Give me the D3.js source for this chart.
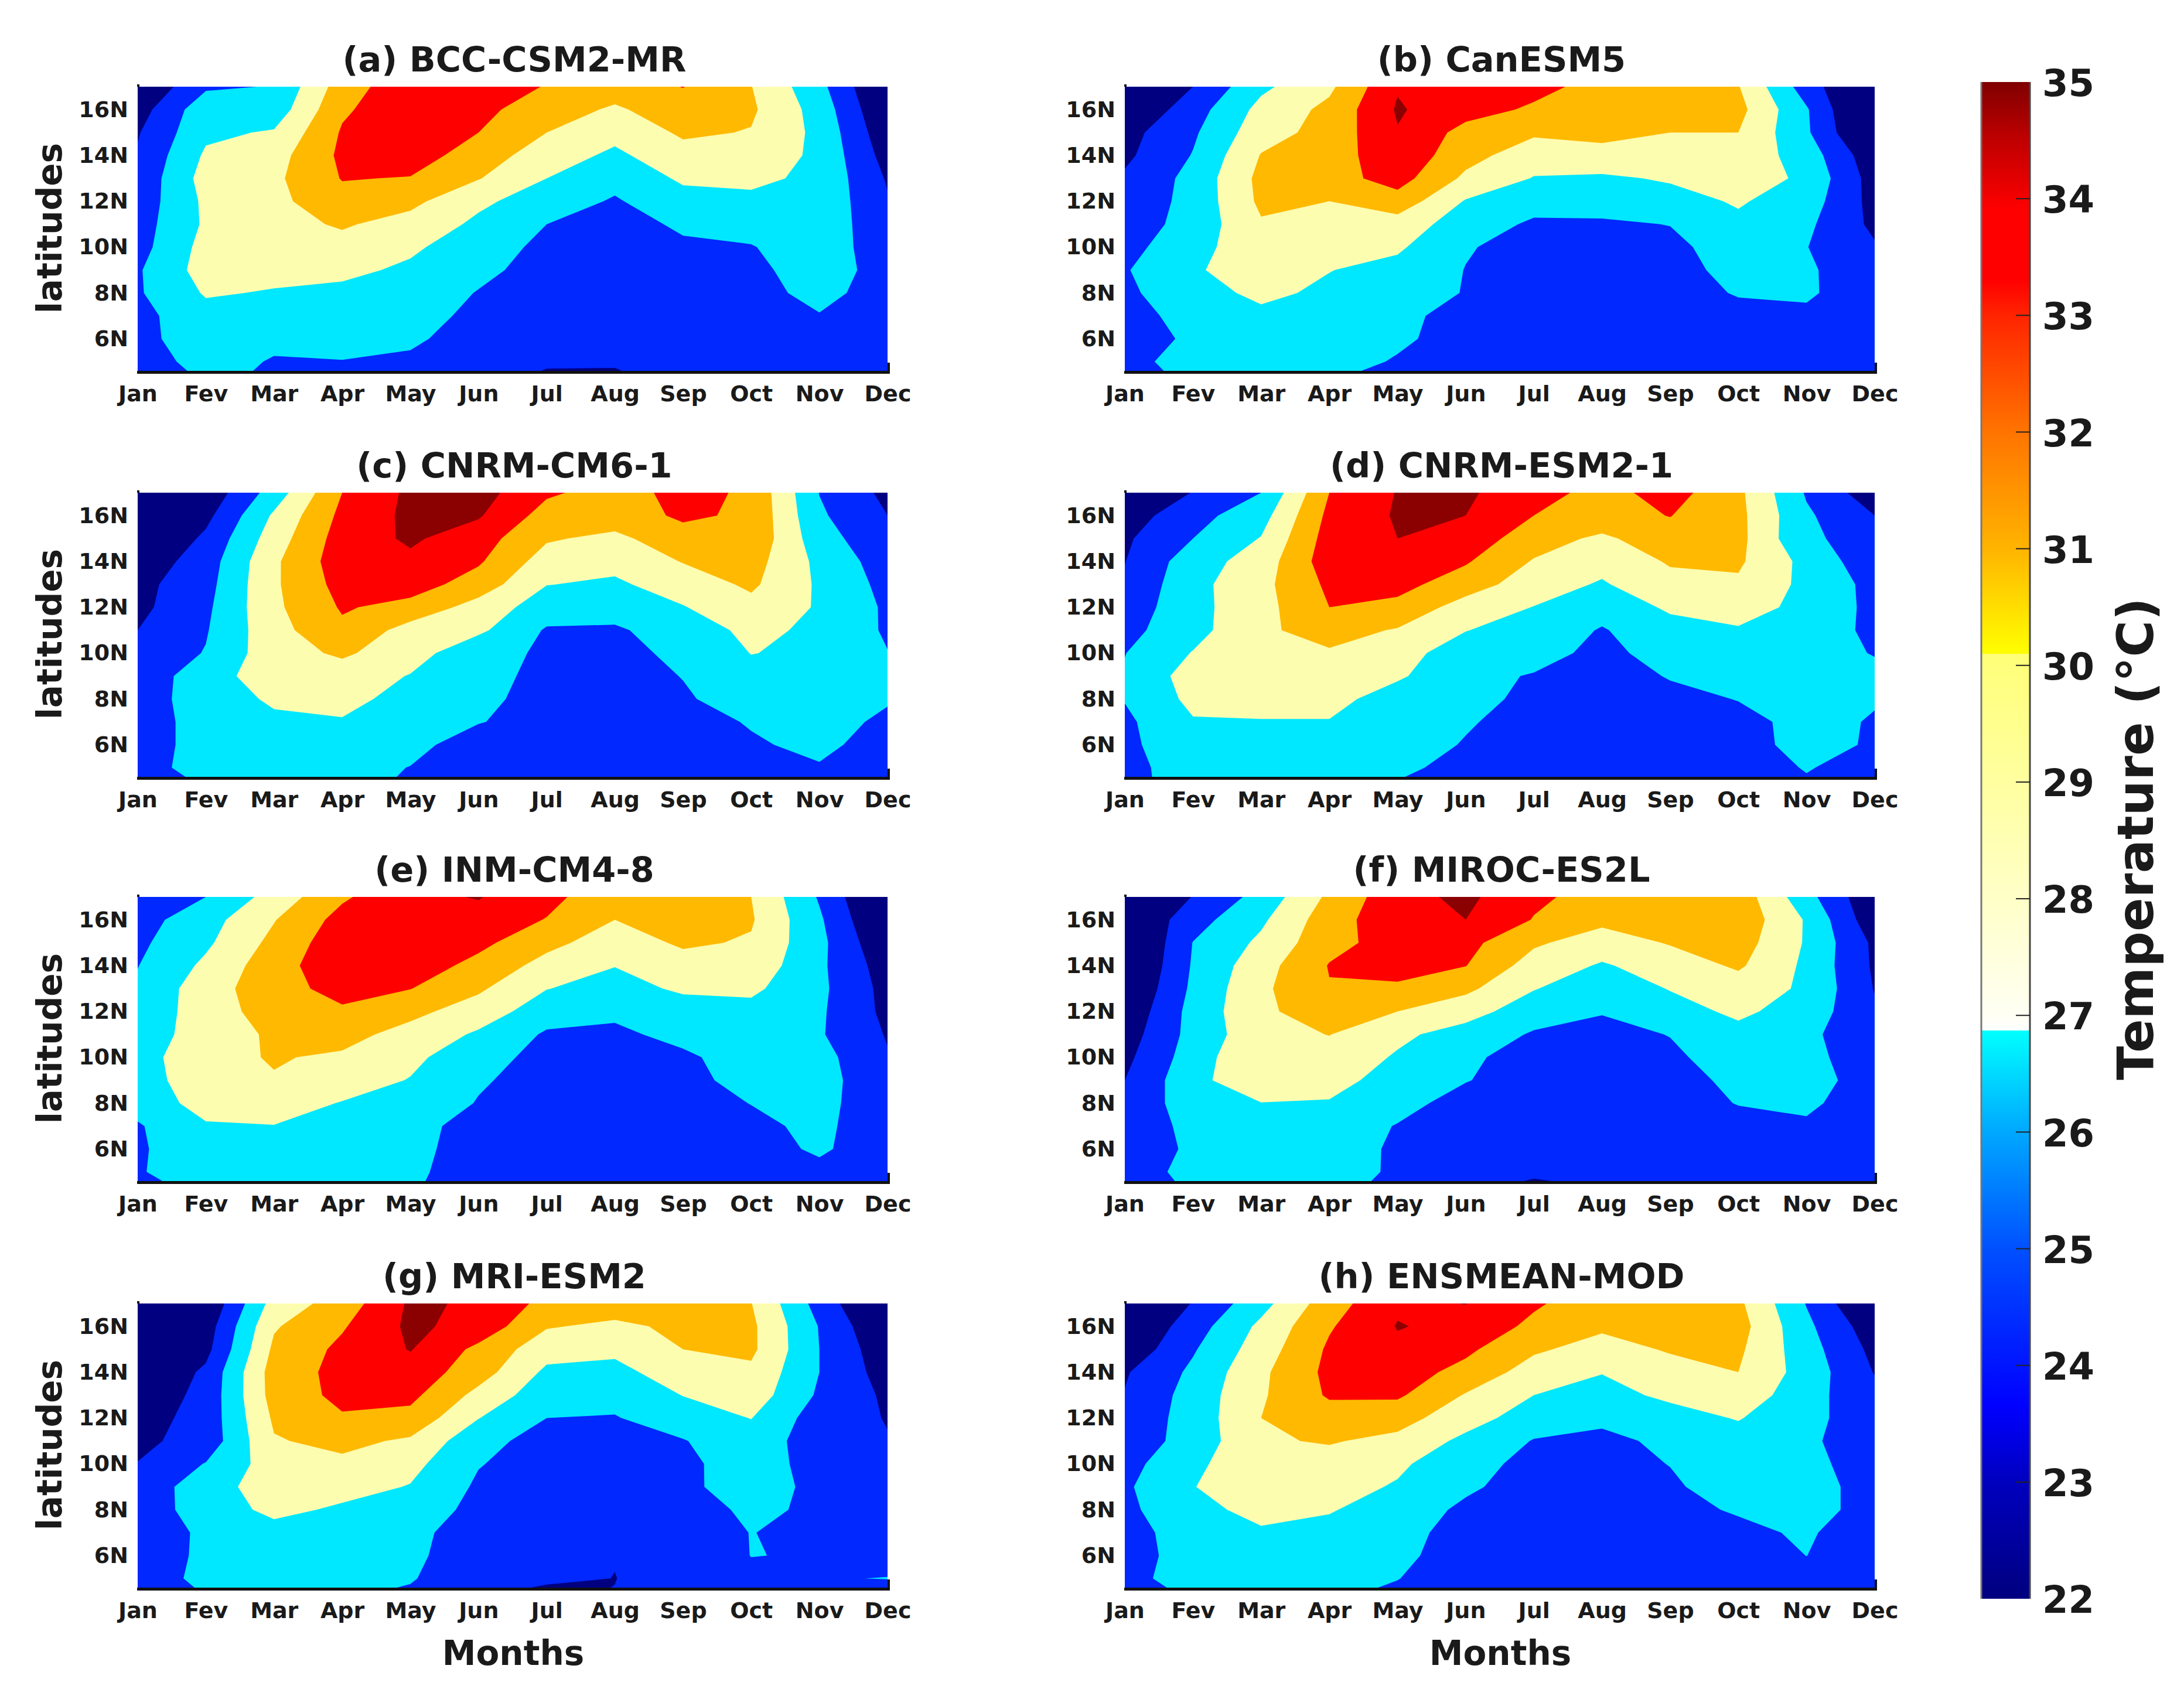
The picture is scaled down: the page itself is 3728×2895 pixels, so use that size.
<!DOCTYPE html>
<html>
<head>
<meta charset="utf-8">
<script src="https://cdn.jsdelivr.net/npm/d3@7"></script>
<style>
  html, body { margin: 0; background: #fff; }
  text { font-family: "DejaVu Sans", sans-serif; font-weight: bold; fill: #1a1a1a; }
</style>
</head>
<body>
<svg id="chart" width="3728" height="2895"></svg>
<script>
const months = ['Jan', 'Fev', 'Mar', 'Apr', 'May', 'Jun', 'Jul', 'Aug', 'Sep', 'Oct', 'Nov', 'Dec'];
const lats = [17, 16, 15, 14, 13, 12, 11, 10, 9, 8, 7, 6, 5, 4.6];
const latTicks = [16, 14, 12, 10, 8, 6];
const barTicks = [22, 23, 24, 25, 26, 27, 28, 29, 30, 31, 32, 33, 34, 35];

// band edges and the flat colour each band gets
const levels = [23, 25, 27, 29, 31, 33];
const bandColors = ['#000080', '#0028ff', '#00e8ff', '#fdfdb0', '#ffb900', '#ff0000', '#8b0000'];

// colorbar stops, value then colour
const barStops = [
  [22, '#00007f'], [23, '#0000bf'], [23.65, '#0000ff'], [25, '#0050ff'], [26, '#00a8ff'], [26.87, '#00ffff'],
  [26.87, '#ffffff'], [27, '#fffff4'], [28, '#ffffc8'], [29, '#ffffa0'], [30.1, '#ffff78'],
  [30.1, '#ffff00'], [31, '#ffb400'], [32, '#ff7400'], [33, '#ff2400'], [33.3, '#ff0000'], [33.9, '#ff0000'],
  [34.5, '#c00000'], [35, '#800000']
];

// temperature, one row per latitude (17N down to 4.6N), Jan..Dec
const bccCsm = [
  [21.1, 24.7, 25.1, 30.0, 32.4, 32.0, 30.9, 30.0, 31.05, 29.05, 25.6, 20.5],
  [22.1, 26.3, 25.8, 30.7, 32.4, 31.5, 30.0, 28.7, 30.2, 29.3, 26.2, 21.0],
  [22.85, 26.6, 27.2, 31.2, 32.4, 31.0, 29.0, 27.6, 29.3, 28.9, 26.5, 21.6],
  [23.2, 27.3, 28.2, 31.4, 32.0, 30.0, 28.0, 26.6, 28.3, 28.2, 26.6, 22.2],
  [23.5, 27.8, 28.6, 31.1, 30.9, 29.1, 27.0, 25.6, 27.3, 27.4, 26.6, 22.8],
  [23.8, 27.4, 28.5, 30.3, 29.5, 27.4, 26.0, 24.8, 26.3, 26.6, 26.5, 23.2],
  [24.1, 27.3, 28.4, 29.2, 28.3, 26.6, 25.0, 24.5, 25.2, 25.7, 26.3, 23.6],
  [24.24, 27.7, 28.1, 28.4, 27.3, 26.0, 24.5, 24.3, 24.8, 24.9, 26.1, 23.9],
  [24.78, 27.86, 27.6, 27.4, 26.7, 25.5, 24.2, 24.1, 24.5, 24.5, 26.0, 24.2],
  [24.78, 27.2, 26.85, 26.6, 26.2, 24.9, 24.0, 23.9, 24.3, 24.3, 25.6, 24.1],
  [24.4, 26.3, 26.0, 26.2, 25.8, 24.5, 23.8, 23.7, 24.1, 24.0, 24.9, 23.9],
  [24.3, 26.3, 25.5, 25.6, 25.3, 24.2, 23.5, 23.4, 23.9, 23.8, 24.4, 23.7],
  [23.8, 25.9, 24.83, 24.95, 24.7, 24.0, 23.25, 23.15, 23.7, 23.6, 24.0, 23.5],
  [23.8, 25.45, 24.8, 24.6, 24.5, 23.9, 22.92, 22.93, 23.6, 23.5, 23.9, 23.4]
];
const canEsm = [
  [21, 23.0, 26.6, 28.6, 32.85, 32.5, 31.6, 30.3, 29.8, 29.1, 24.0, 20],
  [21, 24.1, 27.6, 29.5, 33.2, 31.8, 30.7, 30.2, 30, 29.6, 25.2, 19.5],
  [22.3, 24.7, 28.2, 29.7, 32.9, 30.3, 29.3, 29.6, 29.0, 29.0, 25.3, 20.1],
  [22.6, 25.1, 29.1, 29.9, 32.5, 29.7, 27.9, 28.3, 28.4, 28.3, 26.1, 21.6],
  [23.3, 25.6, 29.55, 30.2, 31.8, 28.6, 26.9, 26.7, 27.2, 28.1, 26.6, 22.1],
  [23.7, 25.6, 29.4, 29.0, 30.2, 26.85, 25.75, 25.9, 26.3, 27.2, 26, 22.3],
  [24, 25.7, 28.8, 28.5, 28.1, 26.0, 24.7, 24.7, 25.05, 26.6, 25.4, 22.55],
  [24.4, 26.2, 28.5, 28.3, 27.3, 25.15, 24.3, 24.2, 24.5, 26.0, 25.05, 23.2],
  [24.85, 26.7, 28.3, 27.05, 26.4, 24.95, 24.1, 24.0, 24.1, 25.8, 25.3, 23.6],
  [24.6, 26.3, 27.4, 26.65, 26.0, 24.9, 24.0, 23.9, 23.9, 25.2, 25.3, 23.7],
  [24.2, 25.75, 26.6, 26.3, 25.7, 24.0, 23.8, 23.7, 23.7, 24.2, 24.6, 23.5],
  [24, 25.35, 26.2, 26, 25.3, 24.3, 23.7, 23.6, 23.6, 23.9, 24, 23.4],
  [24.3, 25.9, 26, 25.7, 24.85, 24.1, 23.6, 23.5, 23.5, 23.6, 23.7, 23.3],
  [24.2, 25.6, 25.8, 25.4, 24.55, 24, 23.5, 23.4, 23.4, 23.5, 23.6, 23.3]
];
const cnrmCm = [
  [20, 21.6, 25.9, 31, 33.4, 33.8, 31.3, 30.2, 31.6, 30.7, 24.95, 22.5],
  [20.5, 22.45, 27.3, 31.5, 33.45, 33.2, 30.2, 30.1, 31.3, 30.7, 25.3, 23.0],
  [20.5, 23.4, 28, 31.9, 33.3, 31.9, 29.22, 28.5, 30.3, 30.6, 25.8, 23.6],
  [21.7, 24, 28.65, 32.1, 32.6, 31.25, 28.1, 27.55, 29.1, 29.8, 26.5, 24],
  [22.4, 24.3, 28.7, 31.7, 31.9, 30.1, 27.05, 26.7, 27.9, 29.35, 26.7, 24.4],
  [22.5, 24.6, 28.6, 31.2, 30.35, 28.2, 26, 25.8, 26.9, 28.4, 26.8, 24.7],
  [23.0, 24.85, 28.3, 30.6, 28.2, 27.4, 24.8, 24.75, 25.9, 27.5, 26.6, 24.75],
  [23.7, 25.1, 28.2, 29.3, 27.9, 25.5, 24.8, 24.6, 25.3, 27.05, 26.6, 25.05],
  [24.1, 25.8, 28.47, 28.1, 26.9, 25.5, 24.6, 24.3, 25.05, 26.3, 26.4, 25.7],
  [24.4, 25.6, 27.4, 27.8, 26.06, 25.4, 24.4, 24.1, 24.8, 25.8, 26, 25.1],
  [24.5, 25.4, 26.5, 26.8, 25.9, 25.1, 24.2, 23.9, 24, 25.2, 25.4, 24.8],
  [24.5, 25.4, 26.2, 26, 25.6, 24, 23.8, 23.7, 23.8, 24.7, 25.6, 23.9],
  [24.5, 25.5, 25.8, 25.7, 24.95, 23.9, 23.7, 23.6, 23.6, 23.8, 24.8, 23.8],
  [24.3, 25.3, 25.6, 25.4, 24.9, 23.9, 23.7, 23.6, 23.6, 23.8, 24.7, 23.8]
];
const cnrmEsm = [
  [20.5, 23.1, 25.0, 31.0, 33.1, 33.3, 31.8, 30.3, 31.8, 29.45, 24.8, 21.8],
  [22, 24.3, 26.2, 31.5, 33.2, 33.0, 31, 30.4, 31.05, 29.55, 25.3, 23.0],
  [22.7, 25, 27.1, 31.85, 33.0, 32.2, 29.9, 28.6, 30.3, 29.6, 25.2, 24.5],
  [22.95, 26.1, 27.9, 32.1, 32.6, 31.2, 28.85, 27.65, 29.2, 29.3, 26.4, 23.7],
  [23.3, 26.4, 28.4, 31.4, 31.6, 30, 27.9, 26.8, 28.4, 28.7, 26.5, 24.4],
  [23.8, 26.4, 28.3, 31, 30.5, 28.1, 26.95, 25.75, 27.3, 27.9, 26.4, 24.5],
  [24.4, 26.3, 28.7, 29.7, 28.85, 27.05, 26.25, 24.85, 26.3, 26.8, 26, 24.6],
  [24.95, 27.1, 28.5, 28.8, 27.6, 26.2, 25.55, 24.6, 25.6, 26.1, 25.8, 24.9],
  [25.2, 27.9, 28.4, 28.2, 27.3, 25.4, 24.9, 24.3, 25.1, 25.7, 25.9, 25.5],
  [25.1, 27.5, 27.7, 27.7, 26, 25.2, 24.85, 24.1, 24.6, 25.05, 25.6, 25.1],
  [24.6, 26.85, 26.9, 26.9, 26, 25.15, 24.4, 23.9, 24.1, 24.6, 25.4, 24.9],
  [24.5, 26.5, 26.4, 26.2, 25.7, 24.9, 24, 23.8, 23.8, 24.3, 25.6, 24.8],
  [24.5, 25.8, 25.9, 25.8, 25.4, 24.4, 23.9, 23.7, 23.7, 23.8, 25.15, 24],
  [24.4, 25.9, 25.8, 25.6, 25.1, 24.2, 23.8, 23.6, 23.6, 23.7, 24.9, 23.9]
];
const inmCm = [
  [23.4, 25, 27.8, 30.7, 32.6, 33.1, 31.7, 29.4, 30, 29, 24.8, 20],
  [24.2, 26.2, 28.9, 31.7, 32.5, 32.4, 30.9, 29, 29.7, 29.2, 25.3, 20.5],
  [24.6, 26.65, 29.55, 32.25, 32.5, 31.5, 29.55, 28, 29.3, 28.8, 25.55, 21.25],
  [24.95, 27.4, 30.15, 32.4, 32.1, 30.4, 28.3, 27.05, 28.2, 28.3, 25.4, 22],
  [25.3, 28.1, 30.2, 31.7, 31.05, 29.3, 27.05, 26.3, 27.3, 27.4, 25.45, 22.35],
  [25.6, 28, 29.9, 30.7, 29.5, 28.1, 25.9, 25.35, 26.1, 26.4, 25.3, 22.5],
  [25.9, 27.95, 29.3, 29.6, 28.35, 26.7, 24.75, 24.65, 25.5, 26, 25.2, 22.85],
  [26.1, 28.5, 29.12, 28.75, 27.5, 25.6, 24.5, 24.35, 24.7, 25.8, 25.7, 23.15],
  [26, 28.3, 28.9, 28, 26.9, 25.2, 24.3, 24.15, 24.4, 25.7, 25.85, 23.4],
  [25.8, 27.75, 27.9, 26.9, 26.2, 24.9, 24.2, 24, 24.1, 25.05, 25.7, 23.5],
  [24.8, 26.8, 26.95, 26.5, 25.7, 24.2, 24, 23.8, 23.9, 24.5, 25.5, 23.6],
  [24.7, 26.5, 26.4, 26, 25.5, 24.2, 23.8, 23.7, 23.7, 23.9, 25.4, 23.4],
  [24.85, 26, 26, 25.8, 25.4, 24, 23.7, 23.6, 23.6, 23.7, 24.3, 23.3],
  [24.6, 25.7, 25.8, 25.6, 25.2, 24.3, 23.7, 23.6, 23.6, 23.7, 24.2, 23.3]
];
const mirocEs = [
  [19.5, 23.1, 25.7, 29.4, 32.3, 33.45, 31.4, 30.2, 30, 30.2, 25.7, 21.3],
  [20.7, 24.2, 26.65, 30.1, 32.35, 33, 30.9, 29.5, 29.9, 30.4, 26.8, 21.6],
  [20, 25.05, 27.4, 30.4, 31.8, 31.6, 29.3, 28, 29.15, 29.9, 26.8, 22.6],
  [20.3, 25.2, 28.2, 31.1, 31.7, 31.05, 28.1, 26.8, 27.9, 29.3, 26.6, 22.7],
  [20.8, 25.4, 28.6, 30.9, 30.7, 29.45, 27.1, 25.75, 27.1, 28, 26.7, 22.9],
  [21.4, 25.7, 28.6, 30.1, 29, 27.8, 25.9, 25.1, 26.2, 27.4, 26.1, 23.3],
  [22, 25.7, 28.3, 29.05, 27.4, 26.2, 24.8, 24.5, 25.05, 26.4, 25.4, 23.7],
  [22.5, 26, 28.85, 28.2, 26.8, 25.4, 24.1, 24.1, 24.7, 25.8, 25.5, 24],
  [23, 26.4, 28.5, 27.75, 26.1, 25.1, 24, 23.9, 24.2, 25.5, 25.6, 24.3],
  [23.5, 26.05, 26.95, 26.85, 25.7, 24.2, 23.9, 23.8, 23.9, 25.1, 25.4, 23.8],
  [23.7, 25.55, 26.2, 26.1, 24.9, 24, 23.8, 23.7, 23.7, 24.2, 24.7, 23.7],
  [23.9, 25.3, 25.9, 25.8, 24.75, 23.8, 23.6, 23.5, 23.6, 23.8, 24, 23.6],
  [24, 25.6, 25.8, 25.6, 24.8, 23.7, 23.3, 23.4, 23.5, 23.7, 23.8, 23.5],
  [23.9, 25.4, 25.6, 25.4, 24.75, 23.6, 22.9, 23.3, 23.4, 23.6, 23.7, 23.4]
];
const mriEsm = [
  [19.5, 21.2, 27.8, 29.9, 33.3, 32.75, 30.4, 30, 29.9, 29.05, 24.2, 20.2],
  [20, 22, 28.8, 30.8, 33.4, 32.3, 29.15, 28.6, 29.4, 29.4, 24.9, 21],
  [20.5, 22.4, 29.4, 31.45, 33.1, 30.5, 27.8, 27.4, 29, 29.4, 25, 21.7],
  [20.7, 23.4, 29.9, 31.6, 32.2, 29.9, 26.6, 26.45, 28, 28.6, 25, 22.1],
  [21.6, 23.6, 29.8, 31.5, 31.5, 28.4, 25.8, 25.55, 27.05, 28.1, 24.7, 22.65],
  [22.2, 23.7, 29.3, 30.8, 30.4, 27.05, 25, 24.9, 25.95, 27.05, 24, 22.9],
  [22.6, 23.7, 28.85, 29.5, 28.7, 25.6, 24.3, 24.3, 24.9, 26.2, 23.9, 23.1],
  [23.05, 25.1, 28, 28.6, 27.6, 25.1, 24.1, 24.1, 24.6, 25.9, 24.3, 23.4],
  [23.6, 26.2, 27.9, 27.7, 26.9, 24.7, 23.9, 23.9, 24.5, 26.1, 24.4, 23.5],
  [23.9, 25.9, 27.5, 26.7, 26, 24.5, 23.8, 23.7, 24.3, 25.3, 24.75, 23.5],
  [24, 25.3, 26.3, 26.1, 25.6, 23.9, 23.6, 23.6, 23.8, 25.05, 24.4, 23.5],
  [24.1, 25.3, 26, 25.8, 25.4, 23.9, 23.5, 23.05, 23.7, 25.03, 24.9, 23.6],
  [24.1, 25.44, 25.8, 25.6, 25.15, 23.7, 23.3, 22.98, 23.6, 24.6, 24.8, 25.1],
  [24, 25.2, 25.6, 25.4, 24.9, 23.5, 22.85, 23.01, 23.5, 23.8, 23.9, 24]
];
const ensMean = [
  [20.5, 23.1, 26.3, 30.1, 32.7, 33.03, 31.3, 29.7, 29.8, 29.4, 24.9, 20.5],
  [20.8, 24.05, 27.45, 30.8, 33.1, 32.5, 30.5, 29.35, 29.6, 29.8, 25.45, 21.8],
  [21.5, 24.8, 28, 31.3, 32.6, 31.4, 29.3, 28.2, 29.2, 29.35, 25.85, 22.45],
  [22.8, 25.4, 28.6, 31.5, 31.9, 30.4, 28.1, 27.05, 28.2, 29, 26.15, 22.9],
  [23.1, 25.8, 28.75, 31.25, 31.3, 28.85, 27, 26.5, 27.3, 28.3, 25.7, 23.6],
  [23.6, 25.8, 29, 30.05, 29.75, 27.85, 26, 25.3, 26.4, 27.1, 25.8, 23.4],
  [23.9, 25.75, 28.8, 29.15, 28.5, 26.5, 24.9, 24.65, 25.3, 26.3, 25.3, 24],
  [24.3, 26.6, 28.3, 28.3, 27.4, 25.5, 24.6, 24.3, 25.05, 26, 25.4, 24.3],
  [24.7, 26.95, 28, 27.8, 26.8, 25.3, 24.2, 24, 24.7, 26, 25.9, 24.1],
  [24.6, 26.3, 27.7, 27.15, 26, 24.65, 23.9, 23.8, 24.3, 25.25, 25.6, 24.4],
  [24.2, 26, 26.7, 26.4, 25.8, 24.1, 23.7, 23.6, 23.7, 24.4, 25.35, 23.3],
  [24.2, 25.8, 26.2, 26, 25.5, 24, 23.6, 23.5, 23.6, 23.8, 25.02, 23.4],
  [24.3, 26, 25.9, 25.7, 25.05, 23.9, 23.5, 23.4, 23.5, 23.7, 24.3, 23.3],
  [24.2, 25.5, 25.7, 25.5, 24.8, 23.8, 23.5, 23.4, 23.4, 23.6, 24, 23.3]
];

const panels = [
  { title: '(a) BCC-CSM2-MR', grid: bccCsm, left: 235, top: 148 },
  { title: '(b) CanESM5', grid: canEsm, left: 1920, top: 148 },
  { title: '(c) CNRM-CM6-1', grid: cnrmCm, left: 235, top: 841 },
  { title: '(d) CNRM-ESM2-1', grid: cnrmEsm, left: 1920, top: 841 },
  { title: '(e) INM-CM4-8', grid: inmCm, left: 235, top: 1531 },
  { title: '(f) MIROC-ES2L', grid: mirocEs, left: 1920, top: 1531 },
  { title: '(g) MRI-ESM2', grid: mriEsm, left: 235, top: 2225 },
  { title: '(h) ENSMEAN-MOD', grid: ensMean, left: 1920, top: 2225 }
];

const plotW = 1280;
const plotH = 485;
const svg = d3.select('#chart');

// contour coordinates are in cell units, these map them back to month index and latitude
const cellToMonth = d3.scaleLinear().domain([0.5, months.length - 0.5]).range([0, months.length - 1]).clamp(true);
const cellToLat = d3.scaleLinear().domain(lats.map((d, i) => i + 0.5)).range(lats).clamp(true);

panels.forEach((p, idx) => {
  const g = svg.append('g').attr('transform', `translate(${p.left},${p.top})`);
  const x = d3.scaleLinear().domain([0, months.length - 1]).range([0, plotW]);
  const y = d3.scaleLinear().domain([17, 4.6]).range([0, plotH]);

  const toPx = (pt) => [x(cellToMonth(pt[0])), y(cellToLat(pt[1]))];
  const contours = d3.contours().size([months.length, lats.length]).thresholds(levels)(p.grid.flat());
  const path = d3.geoPath();

  g.append('rect').attr('width', plotW).attr('height', plotH).attr('fill', bandColors[0]);
  g.selectAll('path.band')
    .data(contours)
    .join('path')
    .attr('class', 'band')
    .attr('fill', (d, i) => bandColors[i + 1])
    .attr('d', (d) => path({
      type: 'MultiPolygon',
      coordinates: d.coordinates.map((poly) => poly.map((ring) => ring.map(toPx)))
    }));

  // black base line with its small end tick, plus the stub at the top left
  g.append('rect').attr('x', -1).attr('y', plotH).attr('width', plotW + 5).attr('height', 5).attr('fill', '#111');
  g.append('rect').attr('x', plotW).attr('y', plotH - 14).attr('width', 4).attr('height', 14).attr('fill', '#111');
  g.append('rect').attr('x', -1).attr('y', -4).attr('width', 4).attr('height', 4).attr('fill', '#111');

  const xAxis = g.append('g').attr('transform', `translate(0,${plotH})`)
    .call(d3.axisBottom(x).tickValues(d3.range(months.length)).tickFormat((i) => months[i]).tickSize(0).tickPadding(25));
  xAxis.select('.domain').remove();
  xAxis.selectAll('text').attr('font-size', 38).attr('font-family', null).attr('fill', null);

  const yAxis = g.append('g')
    .call(d3.axisLeft(y).tickValues(latTicks).tickFormat((d) => d + 'N').tickSize(0).tickPadding(16));
  yAxis.select('.domain').remove();
  yAxis.selectAll('text').attr('font-size', 38).attr('font-family', null).attr('fill', null);

  g.append('text').attr('x', plotW / 2 + 3).attr('y', -26).attr('text-anchor', 'middle')
    .attr('font-size', 59).text(p.title);

  if (idx % 2 === 0) {
    g.append('text').attr('transform', `translate(-130,${plotH / 2 - 1}) rotate(-90)`)
      .attr('text-anchor', 'middle').attr('font-size', 58).text('latitudes');
  }
  if (idx >= 6) {
    g.append('text').attr('x', plotW / 2 + 1).attr('y', plotH + 132).attr('text-anchor', 'middle')
      .attr('font-size', 58).text('Months');
  }
});

// colorbar
const barX = 3382;
const barW = 83;
const barScale = d3.scaleLinear().domain([22, 35]).range([2729, 140]);

const grad = svg.append('defs').append('linearGradient')
  .attr('id', 'barGrad').attr('x1', 0).attr('x2', 0).attr('y1', 1).attr('y2', 0);
grad.selectAll('stop')
  .data(barStops)
  .join('stop')
  .attr('offset', (d) => (d[0] - 22) / (35 - 22))
  .attr('stop-color', (d) => d[1]);

svg.append('rect').attr('x', barX).attr('y', barScale(35)).attr('width', barW)
  .attr('height', barScale(22) - barScale(35)).attr('fill', 'url(#barGrad)');
svg.append('line').attr('x1', barX).attr('x2', barX).attr('y1', barScale(35)).attr('y2', barScale(22))
  .attr('stroke', '#777').attr('stroke-width', 3);
svg.append('line').attr('x1', barX + barW).attr('x2', barX + barW).attr('y1', barScale(35)).attr('y2', barScale(22))
  .attr('stroke', '#444').attr('stroke-width', 3);

const barAxis = svg.append('g').attr('transform', `translate(${barX + barW},0)`)
  .call(d3.axisRight(barScale).tickValues(barTicks).tickSize(0).tickPadding(21).tickFormat(d3.format('d')));
barAxis.select('.domain').remove();
barAxis.selectAll('text').attr('font-size', 64).attr('font-family', null).attr('fill', null).attr('dy', '0.37em');

svg.append('g').selectAll('line')
  .data(barTicks.slice(1, -1))
  .join('line')
  .attr('x1', barX + barW - 24).attr('x2', barX + barW)
  .attr('y1', (d) => barScale(d)).attr('y2', (d) => barScale(d))
  .attr('stroke', '#222').attr('stroke-width', 2);

svg.append('text').attr('transform', 'translate(3675,1432) rotate(-90)')
  .attr('text-anchor', 'middle').attr('font-size', 85).text('Temperature (°C)');
</script>
</body>
</html>
